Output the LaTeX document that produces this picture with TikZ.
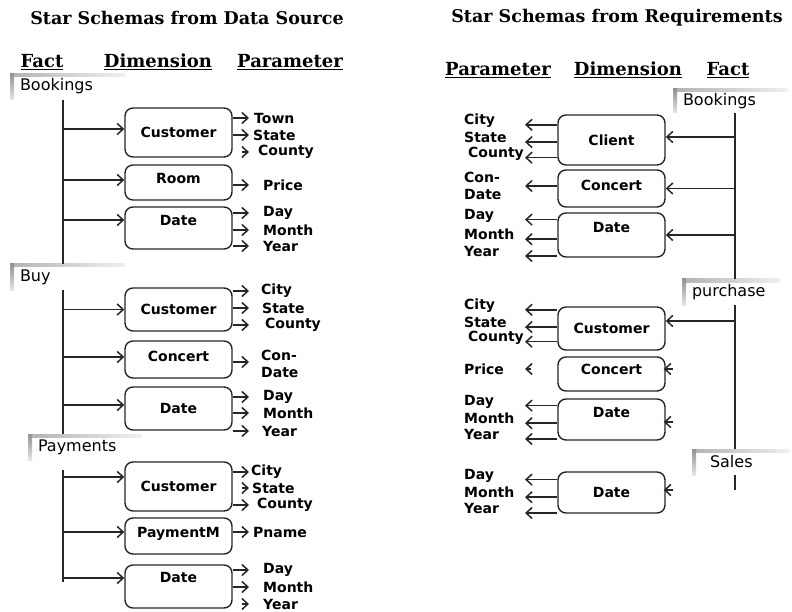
\documentclass[tikz,border=0pt]{standalone}
\usepackage{fontspec}
\usepackage{tikz}
\usetikzlibrary{arrows.meta}
\newfontfamily\headfont{DejaVu Serif}
\newfontfamily\schemafont{DejaVu Sans}

\begin{document}
\begin{tikzpicture}[x=1pt, y=-1pt]
    % Define styles
    \tikzstyle{heading} = [font=\headfont\bfseries\fontsize{17.5}{20}\selectfont]
    \tikzstyle{colhead} = [font=\headfont\bfseries\fontsize{18}{21}\selectfont]
    \tikzstyle{fact} = [rectangle, minimum height=26pt, inner xsep=10pt, align=left, font=\schemafont\fontsize{16}{19}\selectfont,
        path picture={
            \shade[left color=gray!60, right color=gray!12] (path picture bounding box.north west) rectangle ([yshift=-3pt]path picture bounding box.north east);
            \shade[top color=gray!85, bottom color=gray!20] (path picture bounding box.north west) rectangle ([xshift=4pt]path picture bounding box.south west);
        }]
    \tikzstyle{dim} = [rectangle, draw=black!85, line width=1.4pt, rounded corners=8pt, minimum width=107pt, text centered, font=\schemafont\bfseries\fontsize{14}{16}\selectfont]
    \tikzstyle{param} = [anchor=west, inner sep=1pt, align=left, font=\schemafont\bfseries\fontsize{14}{17}\selectfont]
    \tikzstyle{spine} = [line width=2.4pt, draw=black!85]
    \tikzstyle{arrow} = [line width=1.5pt, draw=black!85, -{Straight Barb[length=6pt,width=11pt]}]
    \tikzstyle{tiponly} = [shorten <=9pt]

    \useasboundingbox (0,0) rectangle (792,612);

    % Titles and column heads
    \node (title1) [heading] at (187,18) {Star Schemas from Data Source};
    \node (title2) [heading] at (617,18) {Star Schemas from Requirements};
    \node (hfact1) [colhead] at (42,62) {\underline{Fact}};
    \node (hdim1) [colhead] at (158,62) {\underline{Dimension}};
    \node (hpar1) [colhead] at (290,62) {\underline{Parameter}};
    \node (hpar2) [colhead] at (498,70) {\underline{Parameter}};
    \node (hdim2) [colhead] at (628,70) {\underline{Dimension}};
    \node (hfact2) [colhead] at (728,70) {\underline{Fact}};

    % Facts
    \node (bk1) [fact, text width=95pt] at (67.5,86.5) {Bookings};
    \node (buy) [fact, text width=95pt] at (67.5,277) {Buy};
    \node (pay) [fact, text width=94pt] at (85,447) {Payments};
    \node (bk2) [fact, text width=95pt, minimum height=24pt] at (730.5,101) {Bookings};
    \node (pur) [fact, text width=78pt] at (731,292) {purchase};
    \node (sal) [fact, text width=78pt] at (741,462) {\hspace*{8pt}Sales};

    \coordinate (spL) at (63,0);
    \coordinate (spR) at (735,0);
    \coordinate (tipL) at (249,0);
    \coordinate (tipR) at (525,0);
    \coordinate (payTop) at (63,470);
    \coordinate (payEnd) at (63,582);
    \coordinate (salEnd) at (735,490);

    % Dimensions from data source
    \node (cus1) [dim, minimum height=49pt] at (178.5,132.5) {Customer};
    \node (room1) [dim, minimum height=35pt, text depth=9pt] at (178.5,182.5) {Room};
    \node (date1) [dim, minimum height=42pt, text depth=16pt] at (178.5,228) {Date};
    \node (cus2) [dim, minimum height=43pt] at (178.5,309.5) {Customer};
    \node (conc2) [dim, minimum height=37pt, text depth=7pt] at (178.5,359.5) {Concert};
    \node (date2) [dim, minimum height=43pt] at (178.5,408.5) {Date};
    \node (cus3) [dim, minimum height=49pt] at (178.5,486.5) {Customer};
    \node (paym3) [dim, minimum height=36pt, text depth=8pt] at (178.5,536) {PaymentM};
    \node (date3) [dim, minimum height=43pt, text depth=19pt] at (178.5,586.5) {Date};

    % Parameters from data source
    \node (town1) [param] at (253,118) {Town};
    \node (state1) [param] at (252,135) {State};
    \node (county1) [param] at (257,152) {County};
    \node (price1) [param] at (262,185) {Price};
    \node (day1) [param] at (262,213) {Day};
    \node (month1) [param] at (262,230) {Month};
    \node (year1) [param] at (262,246) {Year};
    \node (city2) [param] at (260,291) {City};
    \node (state2) [param] at (261,308) {State};
    \node (county2) [param] at (264,325) {County};
    \node (con2) [param] at (260,364) {Con-\\Date};
    \node (day2) [param] at (262,397) {Day};
    \node (month2) [param] at (262,413) {Month};
    \node (year2) [param] at (261,431) {Year};
    \node (city3) [param] at (250,472) {City};
    \node (state3) [param] at (251,488) {State};
    \node (county3) [param] at (256,505) {County};
    \node (pname3) [param] at (252,532) {Pname};
    \node (day3) [param] at (262,570) {Day};
    \node (month3) [param] at (262,587) {Month};
    \node (year3) [param] at (262,604) {Year};

    % Dimensions from requirements
    \node (cli) [dim, minimum height=50pt] at (611.5,140) {Client};
    \node (concR1) [dim, minimum height=37pt, text depth=7pt] at (611.5,188.5) {Concert};
    \node (dateR1) [dim, minimum height=44pt, text depth=16pt] at (611.5,235) {Date};
    \node (cusR2) [dim, minimum height=43pt] at (611.5,328.5) {Customer};
    \node (concR2) [dim, minimum height=34pt, text depth=10pt] at (611.5,374) {Concert};
    \node (dateR2) [dim, minimum height=41pt, text depth=15pt] at (611.5,419.5) {Date};
    \node (dateR3) [dim, minimum height=41pt] at (611.5,492.5) {Date};

    % Parameters from requirements
    \node (cityA) [param] at (463,121) {City};
    \node (stateA) [param] at (463,137) {State};
    \node (countyA) [param] at (467,154) {County};
    \node (conA) [param] at (463,186) {Con-\\Date};
    \node (dayA) [param] at (463,216) {Day};
    \node (monthA) [param] at (463,234) {Month};
    \node (yearA) [param] at (463,251) {Year};
    \node (cityB) [param] at (463,306) {City};
    \node (stateB) [param] at (463,322) {State};
    \node (countyB) [param] at (467,338) {County};
    \node (priceB) [param] at (463,369) {Price};
    \node (dayB) [param] at (463,402) {Day};
    \node (monthB) [param] at (463,418) {Month};
    \node (yearB) [param] at (463,434) {Year};
    \node (dayC) [param] at (463,476) {Day};
    \node (monthC) [param] at (463,492) {Month};
    \node (yearC) [param] at (463,508) {Year};

    % Fact lines
    \draw [spine] (spL |- bk1.south) -- (spL |- buy.north);
    \draw [spine] (spL |- buy.south) -- (spL |- pay.north);
    \draw [spine] (payTop) -- (payEnd);
    \draw [spine] (spR |- bk2.south) -- (spR |- pur.north);
    \draw [spine] (spR |- pur.south) -- (spR |- sal.north);
    \draw [spine] (spR |- sal.south) -- (salEnd);

    % Arrows fact -> dimension (data source)
    \draw [arrow] ([yshift=3.5pt]spL |- cus1.west) -- ([yshift=3.5pt]cus1.west);
    \draw [arrow] ([yshift=2.5pt]spL |- room1.west) -- ([yshift=2.5pt]room1.west);
    \draw [arrow] ([yshift=8pt]spL |- date1.west) -- ([yshift=8pt]date1.west);
    \draw [arrow] (spL |- cus2.west) -- (cus2.west);
    \draw [arrow] ([yshift=2.5pt]spL |- conc2.west) -- ([yshift=2.5pt]conc2.west);
    \draw [arrow] ([yshift=3.5pt]spL |- date2.west) -- ([yshift=3.5pt]date2.west);
    \draw [arrow] ([yshift=9.5pt]spL |- cus3.west) -- ([yshift=9.5pt]cus3.west);
    \draw [arrow] ([yshift=4pt]spL |- paym3.west) -- ([yshift=4pt]paym3.west);
    \draw [arrow] ([yshift=8.5pt]spL |- date3.west) -- ([yshift=8.5pt]date3.west);

    % Arrows dimension -> parameter (data source)
    \draw [arrow] (cus1.east |- town1) -- (tipL |- town1);
    \draw [arrow] (cus1.east |- state1) -- (tipL |- state1);
    \draw [arrow, tiponly] (cus1.east |- county1) -- (tipL |- county1);
    \draw [arrow] (room1.east |- price1) -- (tipL |- price1);
    \draw [arrow] (date1.east |- day1) -- (tipL |- day1);
    \draw [arrow] (date1.east |- month1) -- (tipL |- month1);
    \draw [arrow] (date1.east |- year1) -- (tipL |- year1);
    \draw [arrow] (cus2.east |- city2) -- (tipL |- city2);
    \draw [arrow] (cus2.east |- state2) -- (tipL |- state2);
    \draw [arrow] (cus2.east |- county2) -- (tipL |- county2);
    \draw [arrow] ([yshift=2pt]conc2.east |- con2) -- ([yshift=2pt]tipL |- con2);
    \draw [arrow] (date2.east |- day2) -- (tipL |- day2);
    \draw [arrow] (date2.east |- month2) -- (tipL |- month2);
    \draw [arrow] (date2.east |- year2) -- (tipL |- year2);
    \draw [arrow] (cus3.east |- city3) -- (tipL |- city3);
    \draw [arrow, tiponly] (cus3.east |- state3) -- (tipL |- state3);
    \draw [arrow] (cus3.east |- county3) -- (tipL |- county3);
    \draw [arrow] (paym3.east |- pname3) -- (tipL |- pname3);
    \draw [arrow] (date3.east |- day3) -- (tipL |- day3);
    \draw [arrow] (date3.east |- month3) -- (tipL |- month3);
    \draw [arrow, tiponly] (date3.east |- year3) -- (tipL |- year3);

    % Arrows fact -> dimension (requirements)
    \draw [arrow] ([yshift=3pt]spR |- cli.east) -- ([yshift=3pt]cli.east);
    \draw [arrow] (spR |- concR1.east) -- (concR1.east);
    \draw [arrow] (spR |- dateR1.east) -- (dateR1.east);
    \draw [arrow] ([yshift=7.5pt]spR |- cusR2.east) -- ([yshift=7.5pt]cusR2.east);
    \draw [arrow, shorten <=62pt, shorten >=-2pt] ([yshift=5pt]spR |- concR2.east) -- ([yshift=5pt]concR2.east);
    \draw [arrow, shorten <=62pt, shorten >=-2pt] ([yshift=-2.5pt]spR |- dateR2.east) -- ([yshift=-2.5pt]dateR2.east);
    \draw [arrow, shorten <=62pt, shorten >=-2pt] ([yshift=2.5pt]spR |- dateR3.east) -- ([yshift=2.5pt]dateR3.east);

    % Arrows dimension -> parameter (requirements)
    \draw [arrow] (cli.west |- cityA.base) -- (tipR |- cityA.base);
    \draw [arrow] (cli.west |- stateA.base) -- (tipR |- stateA.base);
    \draw [arrow] (cli.west |- countyA.base) -- (tipR |- countyA.base);
    \draw [arrow] (concR1.west |- conA) -- (tipR |- conA);
    \draw [arrow] (dateR1.west |- dayA.base) -- (tipR |- dayA.base);
    \draw [arrow] (dateR1.west |- monthA.base) -- (tipR |- monthA.base);
    \draw [arrow] (dateR1.west |- yearA.base) -- (tipR |- yearA.base);
    \draw [arrow] (cusR2.west |- cityB.base) -- (tipR |- cityB.base);
    \draw [arrow] (cusR2.west |- stateB.base) -- (tipR |- stateB.base);
    \draw [arrow] (cusR2.west |- countyB.base) -- (tipR |- countyB.base);
    \draw [arrow, shorten <=26pt] (concR2.west |- priceB) -- (tipR |- priceB);
    \draw [arrow] (dateR2.west |- dayB.base) -- (tipR |- dayB.base);
    \draw [arrow] (dateR2.west |- monthB.base) -- (tipR |- monthB.base);
    \draw [arrow] (dateR2.west |- yearB.base) -- (tipR |- yearB.base);
    \draw [arrow] (dateR3.west |- dayC.base) -- (tipR |- dayC.base);
    \draw [arrow] (dateR3.west |- monthC.base) -- (tipR |- monthC.base);
    \draw [arrow] (dateR3.west |- yearC.base) -- (tipR |- yearC.base);
\end{tikzpicture}
\end{document}
